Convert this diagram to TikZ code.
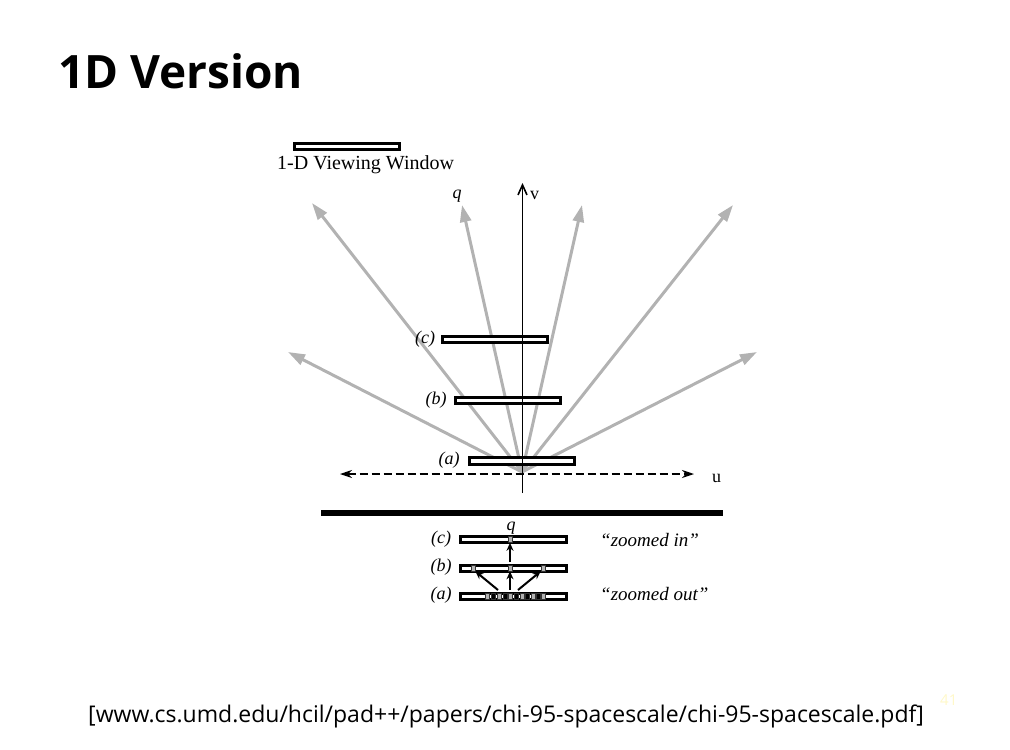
\documentclass[tikz,border=0pt]{standalone}
\usepackage{fontspec}
\setmainfont{Liberation Serif}
\newfontfamily\titlefont{Open Sans}
\newfontfamily\footfont{Open Sans}
\usetikzlibrary{arrows.meta}
\definecolor{arrowgray}{RGB}{178,178,178}
\definecolor{pagenum}{RGB}{255,248,200}
\tikzset{
  grayarrow/.style={draw=arrowgray, line width=3pt, -{Triangle[length=17pt,width=11pt]}},
  winbox/.style={draw=black, line width=3pt, fill=white, rectangle, inner sep=0pt, minimum width=105pt, minimum height=6.5pt},
  smallbox/.style={draw=black, line width=3pt, fill=white, rectangle, inner sep=0pt, minimum width=106pt, minimum height=6pt},
  tick/.style={fill=arrowgray, draw=black!80, line width=0.6pt, inner sep=0pt, minimum width=4pt, minimum height=6pt, rectangle},
  lbl/.style={font=\fontsize{18}{20}\selectfont\itshape, inner sep=0pt, anchor=base},
  blackarrow/.style={draw=black, line width=2pt, -{Stealth[length=8pt,width=7pt]}},
}
\begin{document}
\begin{tikzpicture}[x=1pt,y=-1pt]
\useasboundingbox (0,0) rectangle (1010,750);
% title
\node[anchor=base west, inner sep=0pt, font=\titlefont\bfseries\fontsize{46}{50}\selectfont] (title) at (58,88) {1D Version};
% viewing window legend
\node[winbox] (legend) at (347,146.5) {};
\node[anchor=base west, inner sep=0pt, font=\fontsize{20}{22}\selectfont] (legendtext) at (277,169) {1-D Viewing Window};
% origin and axes
\coordinate (O) at (522,472);
\coordinate (uL) at (340,474);
\coordinate (uR) at (694,474);
\draw[dashed, dash pattern=on 8pt off 4pt, line width=1.3pt, {Stealth[length=12pt,width=8pt]}-{Stealth[length=12pt,width=8pt]}] (uL) -- (uR);
\node[anchor=base west, inner sep=0pt, font=\fontsize{18}{20}\selectfont] (ulabel) at (712,482) {u};
% gray arrows
\coordinate (t1) at (288,352);
\coordinate (t2) at (312,203);
\coordinate (t3) at (462,205);
\coordinate (t4) at (582,205);
\coordinate (t5) at (733,205);
\coordinate (t6) at (757,352);
\foreach \t in {t1,t2,t3,t4,t5,t6} \draw[grayarrow] (O) -- (\t);
\node[lbl] (qlabel) at (457,198) {q};
% windows
\node[winbox] (wc) at (495,339.5) {};
\node[winbox] (wb) at (508,400.5) {};
\node[winbox] (wa) at (521.5,461) {};
\node[lbl] (lc) at (425,343) {(c)};
\node[lbl] (lb) at (436,404) {(b)};
\node[lbl] (la) at (449,464) {(a)};
% v axis
\coordinate (vB) at (522.5,493);
\coordinate (vT) at (522.5,183);
\draw[line width=1.6pt, -{Straight Barb[length=10pt,width=9pt]}] (vB) -- (vT);
\node[anchor=base west, inner sep=0pt, font=\fontsize{18}{20}\selectfont] (vlabel) at (530,199) {v};
% thick bar
\coordinate (barL) at (321,513);
\coordinate (barR) at (723,513);
\draw[line width=6.5pt] (barL) -- (barR);
% bottom zoom diagram
\node[smallbox] (zc) at (513.5,539.5) {};
\node[smallbox] (zb) at (513.5,568) {};
\node[smallbox] (za) at (513.5,596.3) {};
\node[lbl] (zlc) at (441,543) {(c)};
\node[lbl] (zlb) at (441,571) {(b)};
\node[lbl] (zla) at (441,599) {(a)};
\node[lbl] (zq) at (511,530) {q};
\node[tick] (mc) at (510,539.5) {};
\node[tick] (mbl) at (473,568) {};
\node[tick] (mbc) at (510,568) {};
\node[tick] (mbr) at (543,568) {};
\foreach \x/\c in {487/arrowgray,493/black,499/arrowgray,505/black,510/arrowgray,516/black,522/arrowgray,527/black,533/arrowgray,538/black,543/arrowgray}
  \node[tick, fill=\c] at (\x,596.3) {};
\coordinate (a1) at (498,590);
\coordinate (a2) at (510,590);
\coordinate (a3) at (518,590);
\coordinate (b2) at (510,562);
\draw[blackarrow] (a1) -- (mbl.south east);
\draw[blackarrow] (a2) -- (mbc.south);
\draw[blackarrow] (a3) -- (mbr.south west);
\draw[blackarrow] (b2) -- (mc.south);
\node[anchor=base west, inner sep=0pt, font=\fontsize{19}{21}\selectfont\itshape] (zin) at (600,546) {“zoomed in”};
\node[anchor=base west, inner sep=0pt, font=\fontsize{19}{21}\selectfont\itshape] (zout) at (600,600) {“zoomed out”};
% footer
\node[anchor=base west, inner sep=0pt, font=\footfont\fontsize{23}{26}\selectfont] (foot) at (88,722) {[www.cs.umd.edu/hcil/pad++/papers/chi-95-spacescale/chi-95-spacescale.pdf]};
\node[anchor=base west, inner sep=0pt, text=pagenum, font=\footfont\fontsize{15}{16}\selectfont] (page) at (940,705) {41};
\end{tikzpicture}
\end{document}
